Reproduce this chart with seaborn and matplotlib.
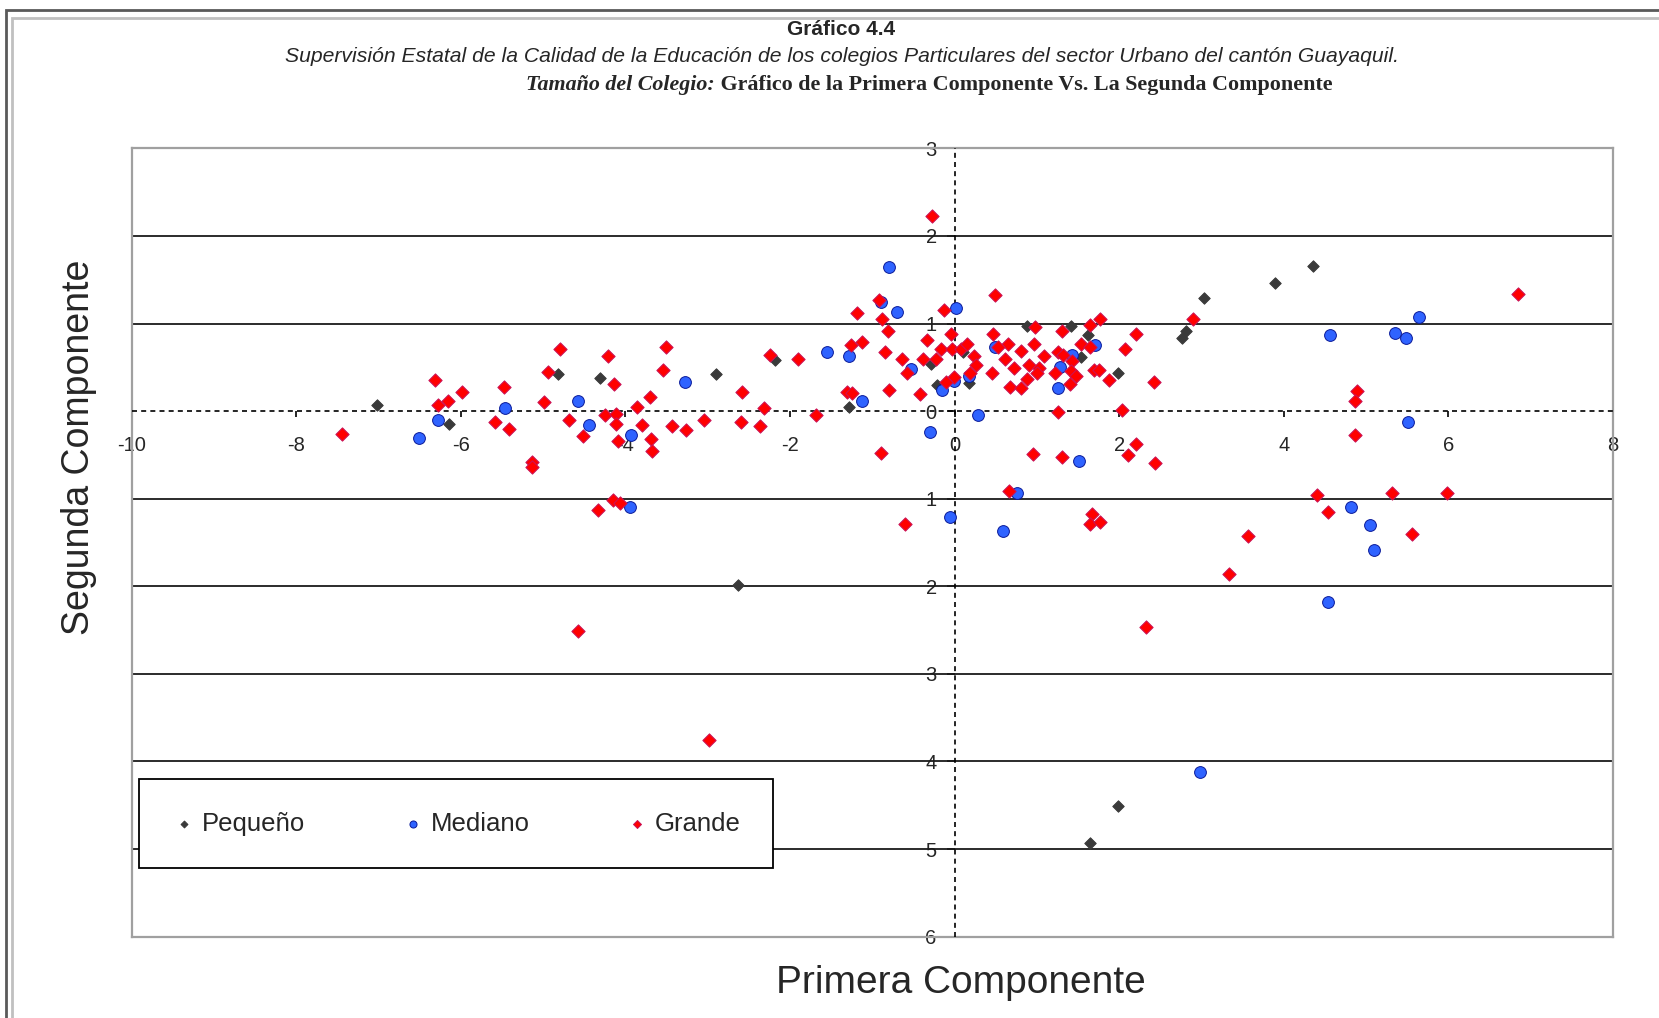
import matplotlib.pyplot as plt
import matplotlib.patches as mpatches
from matplotlib.ticker import FuncFormatter
import pandas as pd
import seaborn as sns

# Scores (first component, second component)
peq_x = [-7.02, -6.15, -4.82, -4.31, -2.90, -2.18, -2.63, -1.28, -0.29, -0.22, 0.10, 0.18,
         0.88, 1.41, 1.62, 1.54, 1.98, 2.76, 2.81, 3.03, 3.89, 4.35, 1.98, 1.64]
peq_y = [0.07, -0.15, 0.42, 0.38, 0.42, 0.58, -1.98, 0.05, 0.54, 0.30, 0.67, 0.32,
         0.97, 0.97, 0.87, 0.62, 0.43, 0.84, 0.91, 1.29, 1.46, 1.66, -4.51, -4.93]

med_x = [-6.51, -6.28, -5.46, -4.58, -4.44, -3.93, -3.95, -3.28, -1.55, -1.28, -1.13, -0.80,
         -0.89, -0.70, -0.53, -0.30, 0.01, -0.15, -0.01, 0.18, 0.28, 0.49, 1.42, 1.28, 1.26,
         1.71, 1.51, 0.76, -0.06, 0.59, 4.56, 5.35, 5.48, 5.64, 5.51, 4.82, 5.05, 5.10, 4.54, 2.98]
med_y = [-0.31, -0.10, 0.04, 0.12, -0.16, -0.27, -1.09, 0.33, 0.67, 0.63, 0.12, 1.64,
         1.25, 1.13, 0.48, -0.24, 1.18, 0.24, 0.34, 0.40, -0.05, 0.73, 0.64, 0.50, 0.26,
         0.76, -0.57, -0.93, -1.21, -1.37, 0.87, 0.89, 0.83, 1.08, -0.12, -1.09, -1.30, -1.59, -2.18, -4.12]

gra_x = [-7.45, -6.32, -6.28, -6.16, -5.99, -5.48, -5.59, -5.42, -5.14, -5.14,
         -4.80, -4.94, -4.99, -4.69, -4.52, -4.21, -4.14, -4.25, -4.11, -4.12, -4.09, -3.86,
         -3.70, -3.80, -3.69, -3.68, -3.51, -3.54, -3.44, -3.27, -3.05, -2.59, -2.60, -2.37,
         -2.32, -2.24, -1.90, -1.69, -1.31, -1.25, -1.26, -1.13, -1.19, -0.88, -0.92, -0.81,
         -0.85, -0.64, -0.58, -0.80, -0.42, -0.34, -0.38, -0.90, -4.33, -4.15, -4.07, -0.60,
         -0.28, 0.49, -0.13, -0.05, -0.23, -0.17, -0.03, 0.08, 0.15, 0.23, 0.26, 0.19, -0.01,
         -0.11, 0.47, 0.65, 0.53, 0.61, 0.72, 0.45, 0.67, 0.81, 0.88, 0.81, 0.90, 0.97, 0.96,
         1.08, 1.02, 1.00, 1.22, 1.26, 1.31, 1.32, 1.42, 1.41, 1.47, 1.40, 1.53, 1.65, 1.65,
         1.76, 1.69, 1.75, 1.88, 2.07, 2.20, 2.42, 2.89, 2.03, 1.25, 0.95, 1.31, 2.10, 2.20,
         2.44, 0.66, 1.67, 1.65, 1.77, 3.57, 3.33, 4.40, 6.85, 4.89, 4.87, 4.87, 4.54, 5.31,
         5.98, 5.56, 2.33, -4.58, -2.99]
gra_y = [-0.26, 0.35, 0.07, 0.11, 0.22, 0.28, -0.12, -0.20, -0.58, -0.64,
         0.71, 0.45, 0.10, -0.10, -0.28, 0.63, 0.31, -0.05, -0.03, -0.15, -0.34, 0.05,
         0.16, -0.16, -0.32, -0.46, 0.73, 0.47, -0.17, -0.22, -0.10, 0.22, -0.12, -0.17,
         0.04, 0.64, 0.60, -0.04, 0.22, 0.21, 0.76, 0.79, 1.12, 1.05, 1.27, 0.91,
         0.67, 0.60, 0.44, 0.24, 0.19, 0.81, 0.59, -0.48, -1.13, -1.01, -1.05, -1.29,
         2.23, 1.32, 1.15, 0.88, 0.59, 0.71, 0.71, 0.71, 0.77, 0.63, 0.53, 0.44, 0.39,
         0.33, 0.88, 0.77, 0.73, 0.59, 0.49, 0.43, 0.28, 0.26, 0.37, 0.69, 0.53, 0.96, 0.77,
         0.63, 0.49, 0.44, 0.43, 0.67, 0.91, 0.64, 0.57, 0.46, 0.40, 0.31, 0.77, 0.98, 0.73,
         1.05, 0.47, 0.47, 0.35, 0.71, 0.88, 0.33, 1.05, 0.01, -0.01, -0.49, -0.52, -0.50, -0.38,
         -0.59, -0.91, -1.17, -1.29, -1.27, -1.43, -1.86, -0.96, 1.34, 0.23, 0.12, -0.27, -1.15, -0.94,
         -0.93, -1.40, -2.46, -2.51, -3.75]

size_order = ["Pequeño", "Mediano", "Grande"]
x_ticks = [-10, -8, -6, -4, -2, 0, 2, 4, 6, 8]
y_ticks = [-6, -5, -4, -3, -2, -1, 0, 1, 2, 3]
grid_y = [-5, -4, -3, -2, -1, 1, 2]

df = pd.concat([
    pd.DataFrame({"x": peq_x, "y": peq_y, "tam": "Pequeño"}),
    pd.DataFrame({"x": med_x, "y": med_y, "tam": "Mediano"}),
    pd.DataFrame({"x": gra_x, "y": gra_y, "tam": "Grande"}),
], ignore_index=True)

sns.set_style("white")
plt.rcParams['font.family'] = ['Liberation Sans', 'DejaVu Sans']
plt.rcParams['axes.unicode_minus'] = False

fig = plt.figure(figsize=(16.59, 10.18), dpi=100)
ax = fig.add_axes([0.0794, 0.0799, 0.8929, 0.7744])

styles = {
    "Pequeño": dict(marker="D", color="#3a3a3a", edgecolor="#3a3a3a", s=34),
    "Mediano": dict(marker="o", color="#2f63ff", edgecolor="#0a1a99", s=72),
    "Grande": dict(marker="D", color="#ff0000", edgecolor="#c8145a", s=46),
}
for name in size_order:
    st = styles[name]
    sns.scatterplot(data=df[df["tam"] == name], x="x", y="y", marker=st["marker"],
                    color=st["color"], edgecolor=st["edgecolor"], s=st["s"],
                    linewidth=0.7, label=name, ax=ax, zorder=4)

ax.set_xlim(-10, 8)
ax.set_ylim(-6, 3)
ax.set_xlabel("")
ax.set_ylabel("")
ax.set_xticks([])
ax.set_yticks(grid_y)
ax.tick_params(left=False, labelleft=False, bottom=False, labelbottom=False)
ax.grid(axis="y", color="#1a1a1a", lw=1.3)
ax.set_axisbelow(True)
for sp in ax.spines.values():
    sp.set_color("#a0a0a0")
    sp.set_linewidth(1.6)

# dashed axes through the origin
ax.axhline(0, color="black", ls=(0, (3, 2.5)), lw=1.2, zorder=3)
ax.axvline(0, color="black", ls=(0, (3, 2.5)), lw=1.2, zorder=3)

xlo, xhi = ax.get_xlim()
ylo, yhi = ax.get_ylim()
secx = ax.secondary_xaxis((0 - ylo) / (yhi - ylo))
secx.set_alignment("bottom")
secx.spines["bottom"].set_visible(False)
secx.set_xticks(x_ticks)
secx.tick_params(length=4, width=1.2, color="black", labelsize=14.5, pad=14)

secy = ax.secondary_yaxis((0 - xlo) / (xhi - xlo))
secy.set_alignment("left")
secy.spines["left"].set_visible(False)
secy.set_yticks(y_ticks)
secy.yaxis.set_major_formatter(FuncFormatter(lambda v, p: f"{abs(v):g}"))
secy.tick_params(length=6, width=1.2, color="black", labelsize=14.5, pad=7)

leg = ax.legend(loc="center", bbox_to_anchor=(0.005, 0.085, 0.428, 0.117), mode="expand",
                ncol=3, fontsize=18.5, markerscale=0.6, handletextpad=0.2, handlelength=1.0,
                borderpad=1.25, borderaxespad=0, frameon=True, fancybox=False, framealpha=1)
leg.get_frame().set_edgecolor("black")
leg.get_frame().set_linewidth(1.3)
leg.set_zorder(6)

# titles
fig.text(841 / 1659, 1 - 29.6 / 1018, "Gráfico 4.4", ha="center", va="center",
         fontsize=15, fontweight="bold")
fig.text(842 / 1659, 1 - 56 / 1018,
         "Supervisión Estatal de la Calidad de la Educación de los colegios Particulares "
         "del sector Urbano del cantón Guayaquil.",
         ha="center", va="center", fontsize=15.2, style="italic")
t1 = fig.text(526 / 1659, 1 - 84.6 / 1018, "Tamaño del Colegio:", ha="left", va="center",
              fontsize=15.8, fontweight="bold", style="italic", family="Liberation Serif")
ax.annotate(" Gráfico de la Primera Componente Vs. La Segunda Componente", xy=(1, 0),
            xycoords=t1, ha="left", va="bottom", fontsize=15.8, fontweight="bold",
            family="Liberation Serif")

fig.text(79 / 1659, 1 - 447 / 1018, "Segunda Componente", rotation=90, ha="center",
         va="center", fontsize=27)
fig.text(961 / 1659, 1 - 983 / 1018, "Primera Componente", ha="center", va="center",
         fontsize=28)

# page frame
fig.add_artist(mpatches.Rectangle((6 / 1659, -0.5), 2, 1.5 - 10 / 1018, transform=fig.transFigure,
                                  fill=False, edgecolor="#5a5a5a", lw=2))
fig.add_artist(mpatches.Rectangle((12 / 1659, -0.5), 2, 1.5 - 17.5 / 1018, transform=fig.transFigure,
                                  fill=False, edgecolor="#c0c0c0", lw=2))

fig.savefig("out.png", dpi=100, facecolor="white")
